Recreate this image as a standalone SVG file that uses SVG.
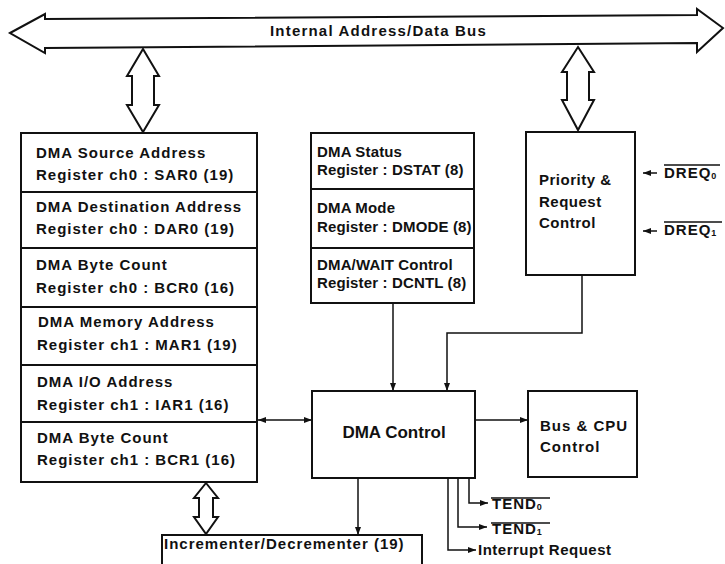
<svg xmlns="http://www.w3.org/2000/svg" width="725" height="564" viewBox="0 0 725 564">
<style>
  .box { fill: #ffffff; stroke: #111; stroke-width: 2; }
  .dbl { fill: #ffffff; stroke: #111; stroke-width: 2; stroke-linejoin: miter; }
  .wire { fill: none; stroke: #111; stroke-width: 1.5; }
  .ov { stroke: #111; stroke-width: 1.3; }
  text { font-family: "Liberation Sans", Arial, sans-serif; font-weight: bold; font-size: 15px; fill: #111; letter-spacing: 1px; }
  .mid { letter-spacing: 0.15px; }
  .pr { letter-spacing: 0.5px; }
  .big { font-size: 17px; letter-spacing: 0; }
  .sub { font-size: 9px; letter-spacing: 0; }
</style>
<defs>
  <marker id="ah" markerUnits="userSpaceOnUse" markerWidth="8" markerHeight="6" refX="8" refY="3" orient="auto">
    <path d="M0,0 L8,3 L0,6 z" fill="#111"/>
  </marker>
  <marker id="ahs" markerUnits="userSpaceOnUse" markerWidth="8" markerHeight="6" refX="0" refY="3" orient="auto">
    <path d="M8,0 L0,3 L8,6 z" fill="#111"/>
  </marker>
</defs>
<rect width="725" height="564" fill="#ffffff"/>

<g id="bus">
  <polygon class="dbl" points="10,33 45,14 45,19 697,15 697,9 723,28 697,52 697,43 45,48 45,53"/>
  <text x="270" y="36" style="letter-spacing:1.2px">Internal Address/Data Bus</text>
</g>

<g id="left-registers">
  <g id="sar0">
    <rect class="box" x="21" y="133" width="236" height="59"/>
    <text x="36" y="158">DMA Source Address</text>
    <text x="36" y="180">Register ch0 : SAR0 (19)</text>
  </g>
  <g id="dar0">
    <rect class="box" x="21" y="192" width="236" height="56"/>
    <text x="36" y="212">DMA Destination Address</text>
    <text x="36" y="234">Register ch0 : DAR0 (19)</text>
  </g>
  <g id="bcr0">
    <rect class="box" x="21" y="248" width="236" height="59"/>
    <text x="36" y="270">DMA Byte Count</text>
    <text x="36" y="293">Register ch0 : BCR0 (16)</text>
  </g>
  <g id="mar1">
    <rect class="box" x="21" y="307" width="236" height="58"/>
    <text x="38" y="327">DMA Memory Address</text>
    <text x="37" y="350">Register ch1 : MAR1 (19)</text>
  </g>
  <g id="iar1">
    <rect class="box" x="21" y="365" width="236" height="57"/>
    <text x="37" y="387">DMA I/O Address</text>
    <text x="37" y="410">Register ch1 : IAR1 (16)</text>
  </g>
  <g id="bcr1">
    <rect class="box" x="21" y="422" width="236" height="60"/>
    <text x="37" y="443">DMA Byte Count</text>
    <text x="37" y="465">Register ch1 : BCR1 (16)</text>
  </g>
</g>

<g id="mid-registers">
  <g id="dstat">
    <rect class="box" x="311" y="133" width="163" height="56"/>
    <text class="mid" x="317" y="157">DMA Status</text>
    <text class="mid" x="317" y="175">Register : DSTAT (8)</text>
  </g>
  <g id="dmode">
    <rect class="box" x="311" y="189" width="163" height="59"/>
    <text class="mid" x="317" y="213">DMA Mode</text>
    <text class="mid" x="317" y="232">Register : DMODE (8)</text>
  </g>
  <g id="dcntl">
    <rect class="box" x="311" y="248" width="163" height="55"/>
    <text class="mid" x="317" y="270">DMA/WAIT Control</text>
    <text class="mid" x="317" y="288">Register : DCNTL (8)</text>
  </g>
</g>

<g id="priority">
  <rect class="box" x="526" y="132" width="109" height="143"/>
  <text class="pr" x="539" y="185">Priority &amp;</text>
  <text class="pr" x="539" y="207">Request</text>
  <text class="pr" x="539" y="228">Control</text>
</g>

<g id="dma-control">
  <rect class="box" x="312" y="391" width="163" height="87"/>
  <text class="big" x="394" y="438" text-anchor="middle">DMA Control</text>
</g>

<g id="bus-cpu">
  <rect class="box" x="528" y="391" width="109" height="86"/>
  <text x="540" y="431">Bus &amp; CPU</text>
  <text x="540" y="452">Control</text>
</g>

<g id="incrementer">
  <rect class="box" x="162" y="535" width="260" height="40"/>
  <text x="164" y="549">Incrementer/Decrementer (19)</text>
</g>

<g id="signals">
  <text x="664" y="178">DREQ<tspan class="sub" dy="1">0</tspan></text>
  <line class="ov" x1="664" y1="165" x2="720" y2="165"/>
  <text x="664" y="235">DREQ<tspan class="sub" dy="1">1</tspan></text>
  <line class="ov" x1="664" y1="222" x2="722" y2="222"/>
  <text x="492" y="509">TEND<tspan class="sub" dy="1">0</tspan></text>
  <line class="ov" x1="491" y1="498" x2="550" y2="498"/>
  <text x="492" y="534">TEND<tspan class="sub" dy="1">1</tspan></text>
  <line class="ov" x1="491" y1="523" x2="550" y2="523"/>
  <text x="478" y="555" style="letter-spacing:0.5px">Interrupt Request</text>
</g>

<g id="connectors">
  <polygon class="dbl" points="143,49 159,76 154,76 154,105 159,105 143,132 127,105 132,105 132,76 127,76"/>
  <polygon class="dbl" points="578,47 594,72 589,72 589,100 594,100 578,130 562,100 567,100 567,72 562,72"/>
  <polygon class="dbl" points="206,483 218,498 213,498 213,517 218,517 206,534 194,517 199,517 199,498 194,498"/>
  <line class="wire" x1="393" y1="303" x2="393" y2="391" marker-end="url(#ah)"/>
  <polyline class="wire" points="582,275 582,333 447,333 447,391" marker-end="url(#ah)"/>
  <line class="wire" x1="258" y1="420" x2="312" y2="420" marker-start="url(#ahs)" marker-end="url(#ah)"/>
  <line class="wire" x1="475" y1="420" x2="528" y2="420" marker-end="url(#ah)"/>
  <line class="wire" x1="358" y1="478" x2="358" y2="535" marker-end="url(#ah)"/>
  <polyline class="wire" points="469,478 469,503 488,503" marker-end="url(#ah)"/>
  <polyline class="wire" points="458,478 458,527 487,527" marker-end="url(#ah)"/>
  <polyline class="wire" points="448,478 448,550 476,550" marker-end="url(#ah)"/>
  <line class="wire" x1="657" y1="173" x2="643" y2="173" marker-end="url(#ah)"/>
  <line class="wire" x1="657" y1="231" x2="643" y2="231" marker-end="url(#ah)"/>
</g>
</svg>
